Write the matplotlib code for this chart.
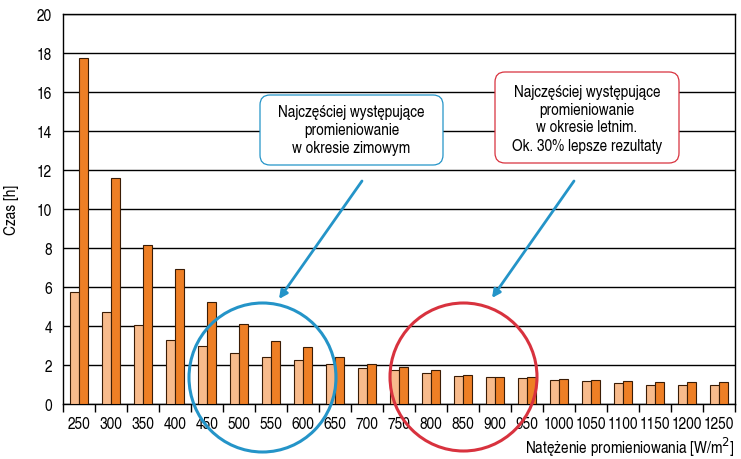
import matplotlib
matplotlib.use('Agg')
import numpy as np
import matplotlib.pyplot as plt
from matplotlib.patches import FancyBboxPatch, Ellipse

font = {'family': ['TeX Gyre Heros Cn', 'Roboto Condensed', 'DejaVu Sans'],
        'size': 12}
matplotlib.rc('font', **font)

# data
irradiance = [250, 300, 350, 400, 450, 500, 550, 600, 650, 700, 750,
              800, 850, 900, 950, 1000, 1050, 1100, 1150, 1200, 1250]
time_light = [5.75, 4.70, 4.05, 3.27, 2.96, 2.60, 2.39, 2.24, 2.03, 1.83, 1.73,
              1.57, 1.42, 1.37, 1.32, 1.21, 1.16, 1.06, 0.96, 0.96, 0.96]
time_dark = [17.73, 11.57, 8.15, 6.90, 5.21, 4.09, 3.21, 2.91, 2.39, 2.03, 1.88,
             1.73, 1.47, 1.37, 1.37, 1.27, 1.21, 1.16, 1.11, 1.11, 1.11]

ytext = 'Czas [h]'
xtext = 'Natężenie promieniowania [W/m$^2$]'
note_winter = 'Najczęściej występujące\npromieniowanie\nw okresie zimowym'
note_summer = ('Najczęściej występujące\npromieniowanie\nw okresie letnim.\n'
               'Ok. 30% lepsze rezultaty')

light_col = '#F8BB8C'
dark_col = '#EE7F25'
edge_col = '#3a1c05'
blue = '#2494c8'
red = '#d8323e'

W, H = 741, 460
fig = plt.figure(figsize=(W / 100, H / 100), dpi=100)
ax = fig.add_axes([63 / W, 1 - 405 / H, (735 - 63) / W, 390 / H])

x = np.arange(len(irradiance))
bw = 0.27
ax.bar(x - bw / 2, time_light, bw, color=light_col, edgecolor=edge_col,
       linewidth=0.8, zorder=3)
ax.bar(x + bw / 2, time_dark, bw, color=dark_col, edgecolor=edge_col,
       linewidth=0.8, zorder=3)

ax.set_xlim(-0.5, len(irradiance) - 0.5)
ax.set_ylim(0, 20)
ax.set_yticks(np.arange(0, 21, 2))
ax.yaxis.grid(True, color='black', linewidth=1.0, zorder=0)
ax.set_axisbelow(True)
ax.set_xticks(x)
ax.set_xticklabels([str(v) for v in irradiance])
ax.set_xticks(np.arange(-0.5, len(irradiance)), minor=True)
ax.tick_params(axis='x', which='major', length=0, pad=9)
ax.tick_params(axis='x', which='minor', length=6, width=1, direction='out')
ax.tick_params(axis='y', length=0, pad=8)
for s in ax.spines.values():
    s.set_color('black')
    s.set_linewidth(1.0)

ax.set_ylabel(ytext)
ax.yaxis.set_label_coords(-0.066, 0.5)
ax.set_xlabel(xtext, ha='right')
ax.xaxis.set_label_coords(1.0, -0.078)

# overlay in pixel coordinates for the notes, arrows and circles
ov = fig.add_axes([0, 0, 1, 1], zorder=5)
ov.set_xlim(0, W)
ov.set_ylim(H, 0)
ov.axis('off')
ov.patch.set_alpha(0)

ov.add_patch(FancyBboxPatch((260, 96), 183, 70,
                            boxstyle='round,pad=0,rounding_size=10',
                            facecolor='white', edgecolor=blue, linewidth=0.9))
ov.text(351.5, 131, note_winter, ha='center', va='center', linespacing=1.25)

ov.add_patch(FancyBboxPatch((495, 73), 184, 91,
                            boxstyle='round,pad=0,rounding_size=10',
                            facecolor='white', edgecolor=red, linewidth=0.9))
ov.text(587, 119, note_summer, ha='center', va='center', linespacing=1.25)

for (x0, y0, x1, y1) in [(362, 182, 279, 300), (574, 182, 492, 299)]:
    ov.annotate('', xy=(x1, y1), xytext=(x0, y0),
                arrowprops=dict(arrowstyle='-|>', color=blue, lw=2,
                                mutation_scale=12, shrinkA=0, shrinkB=0))

ov.add_patch(Ellipse((262.5, 378.5), 147, 149, fill=False, edgecolor=blue,
                     linewidth=2.2))
ov.add_patch(Ellipse((463.5, 378), 147, 148, fill=False, edgecolor=red,
                     linewidth=2.2))

fig.savefig('out.png', dpi=100)
